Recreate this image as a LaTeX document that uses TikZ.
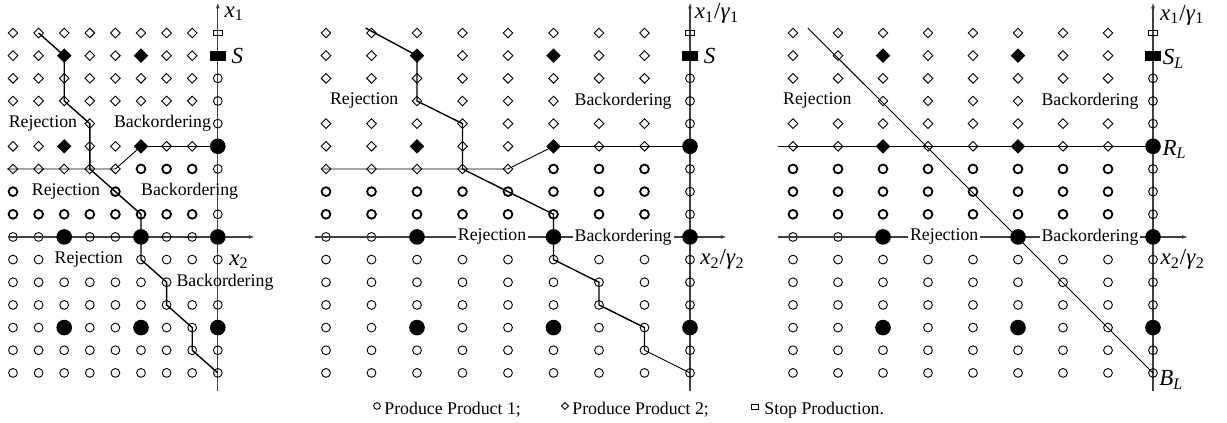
\documentclass[tikz,border=0pt]{standalone}
\usepackage{fontspec}
\setmainfont{Liberation Serif}
\usetikzlibrary{arrows.meta}
\usetikzlibrary{shapes.geometric}
\usetikzlibrary{positioning}

\tikzset{
  prodone/.style={circle, draw, line width=0.45pt, inner sep=0pt, minimum size=4.4pt},
  prodonebold/.style={prodone, line width=0.9pt},
  prodtwo/.style={diamond, draw, line width=0.45pt, inner sep=0pt, minimum size=5pt},
  bigone/.style={circle, fill, inner sep=0pt, minimum size=7.8pt},
  bigtwo/.style={diamond, fill, inner sep=0pt, minimum size=7.4pt},
  stopbox/.style={rectangle, draw, line width=0.45pt, inner sep=0pt, minimum width=4.5pt, minimum height=2.5pt},
  bigstop/.style={rectangle, fill, inner sep=0pt, minimum width=8pt, minimum height=5pt},
  region/.style={font=\fontsize{8.9}{10}\selectfont, inner sep=1pt},
  axlabel/.style={font=\fontsize{11.5}{13}\selectfont, inner sep=0pt, anchor=west},
  axis/.style={line width=0.6pt, black!75, -{Latex[length=3pt,width=2pt]}},
  curve/.style={line width=0.7pt},
  thincurve/.style={line width=0.45pt},
  panel/.style n args={2}{shift={(#1,33)}, x=#2, y=-11.33pt},
}

\begin{document}
\begin{tikzpicture}[x=0.5pt, y=-0.5pt]
    \useasboundingbox (0,0) rectangle (1227,423);
    \foreach \p/\x/\dx in {a/13/12.8pt, b/326/22.75pt, c/793/22.5pt} {
        \begin{scope}[panel={\x}{\dx}]
            \coordinate (\p-ybot) at (8,15.8);
            \coordinate (\p-ytop) at (8,-1.35);
            \draw[axis] (\p-ybot) -- (\p-ytop);
            \foreach \r in {0,2} \foreach \c in {0,...,7} \node[prodtwo] (\p-\c-\r) at (\c,\r) {};
            \foreach \r in {1,5} \foreach \c in {0,1,3,4,6,7} \node[prodtwo] (\p-\c-\r) at (\c,\r) {};
            \foreach \c in {0,...,7} \node[prodonebold] (\p-\c-8) at (\c,8) {};
            \foreach \r in {12,14,15} \foreach \c in {0,...,7} \node[prodone] (\p-\c-\r) at (\c,\r) {};
            \foreach \c in {0,1,3,4,6,7} \node[prodone] (\p-\c-13) at (\c,13) {};
            \foreach \c in {0,1} \node[prodone] (\p-\c-9) at (\c,9) {};
            \foreach \r in {2,3,4,6,8,10,12,14,15} \node[prodone] (\p-8-\r) at (8,\r) {};
            \node[stopbox] (\p-8-0) at (8,0) {};
            \node[bigstop] (\p-8-1) at (8,1) {};
        \end{scope}
    }

    % first policy
    \begin{scope}[panel={13}{12.8pt}]
        \coordinate (a-xleft) at (-0.2,9);
        \coordinate (a-xright) at (9.45,9);
        \coordinate (a-left6) at (-0.23,6);
        \draw[axis] (a-xleft) -- (a-xright);
        \foreach \c in {0,...,7} \node[prodtwo] (a-\c-3) at (\c,3) {};
        \foreach \c/\r in {3/4,0/6,1/6,2/6,3/6,4/6} \node[prodtwo] (a-\c-\r) at (\c,\r) {};
        \foreach \c/\r in {5/6,6/6,7/6,0/7,4/7} \node[prodonebold] (a-\c-\r) at (\c,\r) {};
        \foreach \c/\r in {3/9,4/9,6/9,7/9,0/10,1/10,5/10,6/10,7/10} \node[prodone] (a-\c-\r) at (\c,\r) {};
        \foreach \c in {0,...,6} \node[prodone] (a-\c-11) at (\c,11) {};
        \foreach \c/\r in {2/1,5/1,2/5,5/5} \node[bigtwo] (a-\c-\r) at (\c,\r) {};
        \foreach \c/\r in {2/9,5/9,8/9,2/13,5/13,8/13,8/5} \node[bigone] (a-\c-\r) at (\c,\r) {};
        \draw[curve] (a-1-0.center) -- (a-2-1.center) -- (a-2-3.center) -- (a-3-4.center) -- (a-3-6.center)
            -- (a-5-8.center) -- (a-5-10.center) -- (a-6-11.center) -- (a-6-12.center) -- (a-7-13.center)
            -- (a-7-14.center) -- (a-8-15.center);
        \draw[thincurve] (a-left6) -- (a-4-6.center) -- (a-5-5.center);
        \draw[curve] (a-5-5.center) -- (a-8-5.center);
        \node[region] (a-rej1) at (1.17,4) {Rejection};
        \node[region] (a-back1) at (5.84,4) {Backordering};
        \node[region] (a-rej2) at (2.07,7) {Rejection};
        \node[region] (a-back2) at (6.9,7) {Backordering};
        \node[region] (a-rej3) at (2.96,10) {Rejection};
        \node[region] (a-back3) at (8.28,11) {Backordering};
        \node[axlabel] (a-xone) at (8.25,-0.85) {\textit{x}\textsubscript{1}};
        \node[axlabel] (a-xtwo) at (8.44,10.1) {\textit{x}\textsubscript{2}};
        \node[axlabel, right=2.5pt of a-8-1] (a-s) {\textit{S}};
    \end{scope}

    % second policy
    \begin{scope}[panel={326}{22.75pt}]
        \coordinate (b-xleft) at (-0.24,9);
        \coordinate (b-xright) at (8.81,9);
        \coordinate (b-left6) at (-0.09,6);
        \coordinate (b-start) at (0.87,-0.22);
        \draw[axis] (b-xleft) -- (b-xright);
        \foreach \c in {0,...,7} \node[prodtwo] (b-\c-4) at (\c,4) {};
        \foreach \c in {2,...,5} \node[prodtwo] (b-\c-3) at (\c,3) {};
        \foreach \c in {0,...,4} \node[prodtwo] (b-\c-6) at (\c,6) {};
        \foreach \c in {5,6,7} \node[prodonebold] (b-\c-6) at (\c,6) {};
        \foreach \c in {0,...,7} \node[prodonebold] (b-\c-7) at (\c,7) {};
        \foreach \r in {10,11} \foreach \c in {0,...,7} \node[prodone] (b-\c-\r) at (\c,\r) {};
        \foreach \r in {7,11} \node[prodone] (b-8-\r) at (8,\r) {};
        \foreach \c/\r in {2/1,5/1,2/5,5/5} \node[bigtwo] (b-\c-\r) at (\c,\r) {};
        \foreach \c/\r in {2/9,5/9,8/9,2/13,5/13,8/13,8/5} \node[bigone] (b-\c-\r) at (\c,\r) {};
        \draw[curve] (b-start) -- (b-2-1.center) -- (b-2-3.center) -- (b-3-4.center) -- (b-3-6.center)
            -- (b-5-8.center) -- (b-5-10.center) -- (b-6-11.center) -- (b-6-12.center) -- (b-7-13.center)
            -- (b-7-14.center);
        \draw[thincurve] (b-7-14.center) -- (b-8-15.center);
        \draw[thincurve] (b-left6) -- (b-4-6.center) -- (b-5-5.center);
        \draw[curve] (b-5-5.center) -- (b-8-5.center);
        \node[region] (b-rej1) at (0.84,3) {Rejection};
        \node[region] (b-back1) at (6.53,3) {Backordering};
        \node[region, fill=white] (b-rej2) at (3.65,9) {Rejection};
        \node[region, fill=white] (b-back2) at (6.53,9) {Backordering};
        \node[axlabel] (b-xone) at (8.1,-0.85) {\textit{x}\textsubscript{1}/\textit{γ}\textsubscript{1}};
        \node[axlabel] (b-xtwo) at (8.22,10) {\textit{x}\textsubscript{2}/\textit{γ}\textsubscript{2}};
        \node[axlabel, right=2.5pt of b-8-1] (b-s) {\textit{S}};
    \end{scope}

    % third policy
    \begin{scope}[panel={793}{22.5pt}]
        \coordinate (c-xleft) at (-0.33,9);
        \coordinate (c-xright) at (8.78,9);
        \coordinate (c-left5) at (-0.33,5);
        \coordinate (c-start) at (0.33,-0.22);
        \draw[axis] (c-xleft) -- (c-xright);
        \foreach \c in {0,...,7} \node[prodtwo] (c-\c-4) at (\c,4) {};
        \foreach \c in {2,...,5} \node[prodtwo] (c-\c-3) at (\c,3) {};
        \foreach \r in {6,7} \foreach \c in {0,...,7} \node[prodonebold] (c-\c-\r) at (\c,\r) {};
        \foreach \r in {10,11} \foreach \c in {0,...,7} \node[prodone] (c-\c-\r) at (\c,\r) {};
        \foreach \r in {7,11} \node[prodone] (c-8-\r) at (8,\r) {};
        \foreach \c/\r in {2/1,5/1,2/5,5/5} \node[bigtwo] (c-\c-\r) at (\c,\r) {};
        \foreach \c/\r in {2/9,5/9,8/9,2/13,5/13,8/13,8/5} \node[bigone] (c-\c-\r) at (\c,\r) {};
        \draw[thincurve] (c-start) -- (c-8-15.center);
        \draw[thincurve] (c-left5) -- (c-8-5.center);
        \node[region] (c-rej1) at (0.54,3) {Rejection};
        \node[region] (c-back1) at (6.6,3) {Backordering};
        \node[region, fill=white] (c-rej2) at (3.36,9) {Rejection};
        \node[region, fill=white] (c-back2) at (6.6,9) {Backordering};
        \node[axlabel] (c-xone) at (8.15,-0.8) {\textit{x}\textsubscript{1}/\textit{γ}\textsubscript{1}};
        \node[axlabel] (c-xtwo) at (8.16,10) {\textit{x}\textsubscript{2}/\textit{γ}\textsubscript{2}};
        \node[axlabel, right=0.5pt of c-8-1, yshift=-1.5pt] (c-sl) {\textit{S}\textsubscript{\textit{L}}};
        \node[axlabel, right=0.5pt of c-8-5, yshift=-1.5pt] (c-rl) {\textit{R}\textsubscript{\textit{L}}};
        \node[axlabel, right=0.5pt of c-8-15, yshift=-3.5pt] (c-bl) {\textit{B}\textsubscript{\textit{L}}};
    \end{scope}

    % legend
    \node[prodone, minimum size=3.3pt] (lg-one) at (377,406) {};
    \node[region, anchor=west] (lg-one-text) at (382,410) {Produce Product 1;};
    \node[prodtwo, minimum size=3.6pt] (lg-two) at (565,406) {};
    \node[region, anchor=west] (lg-two-text) at (570,410) {Produce Product 2;};
    \node[stopbox, minimum width=3.8pt, minimum height=2.2pt] (lg-stop) at (755,407) {};
    \node[region, anchor=west] (lg-stop-text) at (762,410) {Stop Production.};
\end{tikzpicture}
\end{document}
